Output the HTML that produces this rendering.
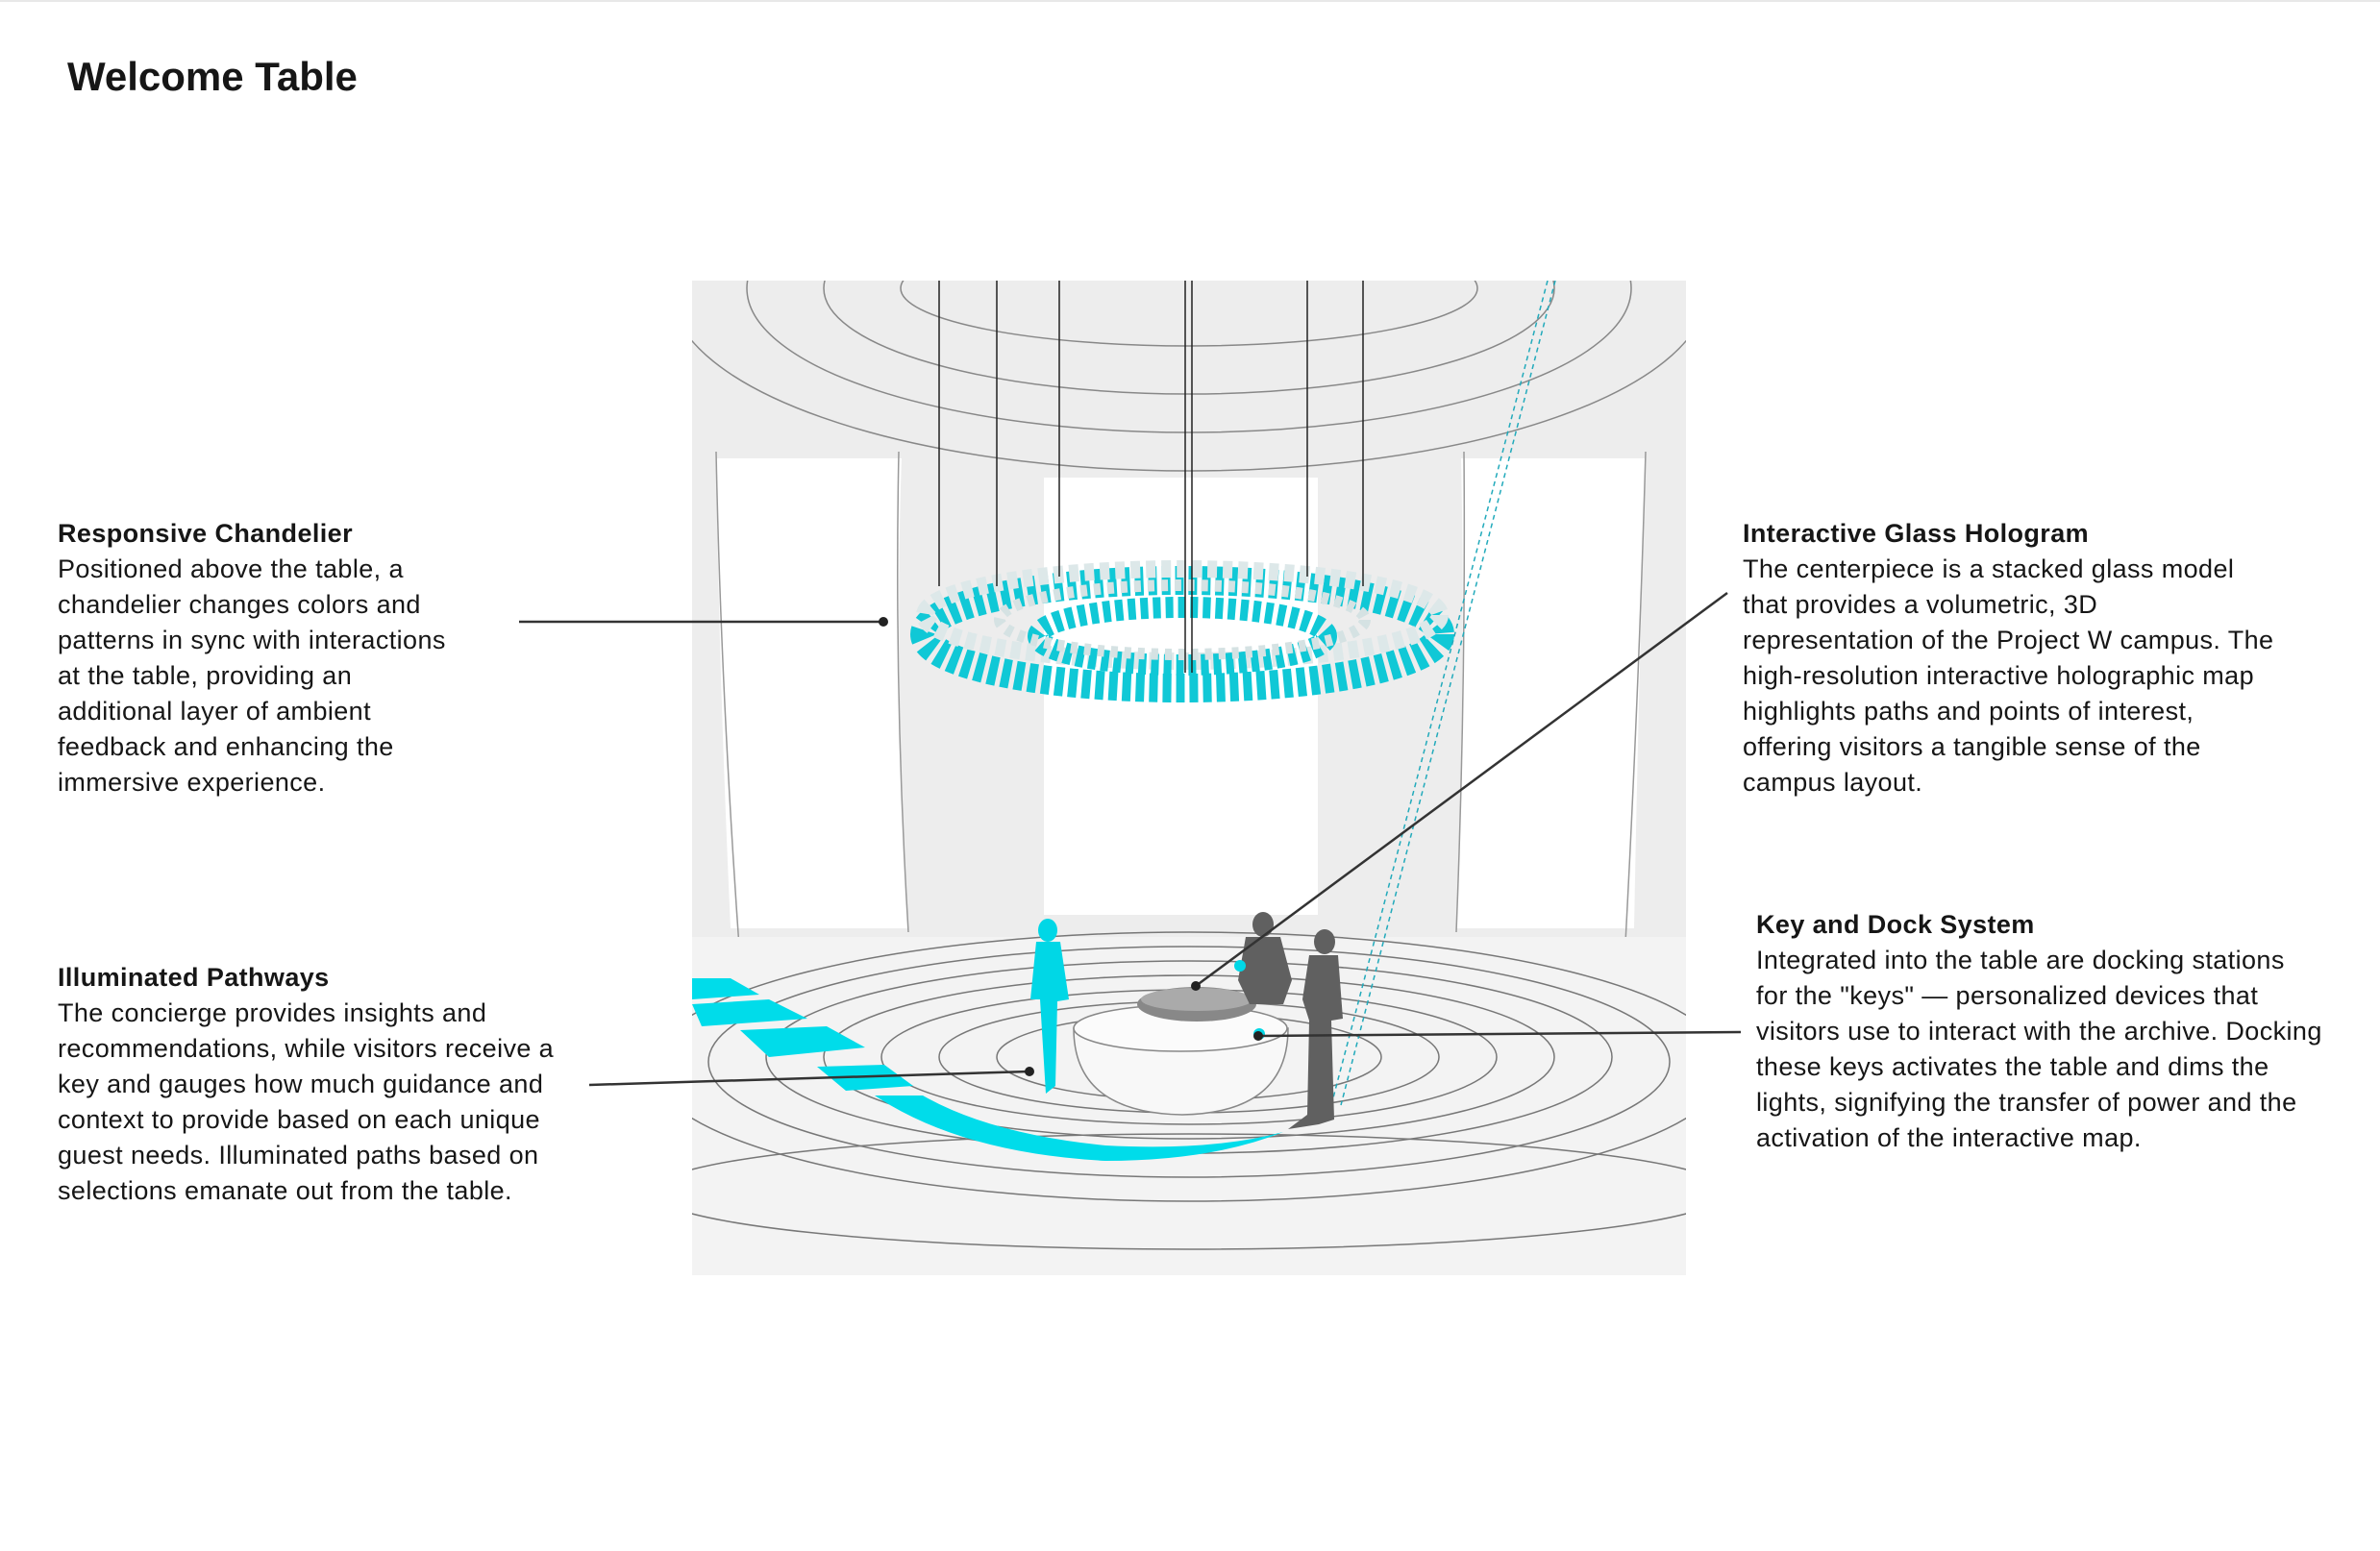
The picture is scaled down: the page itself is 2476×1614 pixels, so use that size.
<!DOCTYPE html>
<html><head><meta charset="utf-8"><style>
html,body{margin:0;padding:0;background:#fff;}
body{width:2476px;height:1614px;position:relative;overflow:hidden;font-family:"Liberation Sans",sans-serif;color:#161616;}
h1{position:absolute;left:70px;top:56px;margin:0;font-size:42px;font-weight:bold;}
.t{position:absolute;font-size:27px;line-height:37px;letter-spacing:0.4px;white-space:nowrap;}
.t b{font-weight:bold;}
svg{position:absolute;left:0;top:0;}
</style></head><body>
<div style="position:absolute;left:0;top:0;width:2476px;height:2px;background:#e8e8e8"></div>
<h1>Welcome Table</h1>
<svg width="2476" height="1614" viewBox="0 0 2476 1614">
<defs><clipPath id="c"><rect x="720" y="292" width="1034" height="1035"/></clipPath></defs>
<g clip-path="url(#c)">
<rect x="720" y="292" width="1034" height="1035" fill="#ededed"/>
<g fill="none" stroke="#888" stroke-width="1.5">
<ellipse cx="1237" cy="300" rx="300" ry="60"/>
<ellipse cx="1237" cy="300" rx="380" ry="110"/>
<ellipse cx="1237" cy="300" rx="460" ry="150"/>
<ellipse cx="1237" cy="300" rx="540" ry="190"/>
</g>
<path d="M745 477 L938 477 Q930 700 945 966 L760 966 Q748 700 745 477Z" fill="#fff"/>
<path d="M1086 497 L1371 497 L1371 952 L1086 952Z" fill="#fff"/>
<path d="M1520 477 L1712 477 Q1705 700 1700 966 L1515 966 Q1525 700 1520 477Z" fill="#fff"/>
<g stroke="#999" stroke-width="1.5" fill="none">
<path d="M935 470 Q930 720 945 970"/><path d="M1523 470 Q1525 720 1515 970"/>
<path d="M745 470 Q750 720 770 1000"/><path d="M1712 470 Q1705 720 1690 1000"/>
</g>
<path d="M720 975 L1754 975 L1754 1327 L720 1327Z" fill="#f3f3f3"/>
<g fill="none" stroke="#777" stroke-width="1.5">
<ellipse cx="1237" cy="1110" rx="560" ry="140"/>
<ellipse cx="1237" cy="1105" rx="500" ry="120"/>
<ellipse cx="1237" cy="1100" rx="440" ry="100"/>
<ellipse cx="1237" cy="1100" rx="380" ry="85"/>
<ellipse cx="1237" cy="1100" rx="320" ry="70"/>
<ellipse cx="1237" cy="1100" rx="260" ry="58"/>
<ellipse cx="1237" cy="1100" rx="200" ry="45"/>
<ellipse cx="1237" cy="1240" rx="560" ry="60"/>
</g>
<path d="M720 1018 L760 1018 L790 1035 L720 1040Z M720 1045 L800 1040 L840 1060 L730 1068Z M770 1072 L860 1068 L900 1090 L800 1100Z M850 1110 L920 1108 L950 1130 L880 1135Z M910 1140 Q1000 1200 1150 1208 Q1260 1208 1335 1178 Q1260 1198 1150 1192 Q1030 1180 960 1140Z" fill="#00dcea"/>
<g fill="none">
<ellipse cx="1230" cy="660" rx="268" ry="56" stroke="#10c8d6" stroke-width="30" stroke-dasharray="9 5"/>
<ellipse cx="1230" cy="640" rx="268" ry="48" stroke="#dde8e9" stroke-width="18" stroke-dasharray="10 6"/>
<ellipse cx="1230" cy="662" rx="150" ry="30" stroke="#10c8d6" stroke-width="22" stroke-dasharray="8 5"/>
<ellipse cx="1230" cy="645" rx="190" ry="36" stroke="#d5e2e3" stroke-width="12" stroke-dasharray="7 7"/>
</g>
<g stroke="#222" stroke-width="1.5">
<line x1="977" y1="292" x2="977" y2="610"/><line x1="1037" y1="292" x2="1037" y2="610"/>
<line x1="1102" y1="292" x2="1102" y2="600"/><line x1="1233" y1="292" x2="1233" y2="700"/>
<line x1="1240" y1="292" x2="1240" y2="700"/><line x1="1418" y1="292" x2="1418" y2="610"/>
<line x1="1360" y1="292" x2="1360" y2="600"/>
</g>
<g stroke="#2ab" stroke-width="1.5" stroke-dasharray="5 4" fill="none">
<line x1="1610" y1="292" x2="1385" y2="1150"/><line x1="1618" y1="292" x2="1395" y2="1150"/>
</g>
<path d="M1117 1070 Q1117 1158 1230 1160 Q1340 1158 1340 1070Z" fill="#f8f8f8" stroke="#888" stroke-width="1.5"/>
<ellipse cx="1228" cy="1070" rx="111" ry="24" fill="#fbfbfb" stroke="#888" stroke-width="1.5"/>
<ellipse cx="1245" cy="1045" rx="62" ry="18" fill="#888"/>
<ellipse cx="1245" cy="1040" rx="58" ry="12" fill="#aaa"/>
<g fill="#00d7e6">
<ellipse cx="1090" cy="968" rx="10" ry="12"/>
<path d="M1078 980 L1103 980 L1112 1040 L1100 1042 L1098 1130 L1088 1138 L1082 1040 L1072 1040Z"/>
</g>
<g fill="#606060">
<ellipse cx="1314" cy="962" rx="11" ry="13"/>
<path d="M1296 975 L1332 975 L1344 1020 L1335 1045 L1300 1045 L1288 1020Z"/>
<ellipse cx="1378" cy="980" rx="11" ry="13"/>
<path d="M1362 994 L1392 994 L1397 1060 L1385 1062 L1388 1165 L1372 1170 L1340 1175 L1360 1160 L1362 1062 L1355 1040Z"/>
</g>
<circle cx="1290" cy="1005" r="6" fill="#00d7e6"/>
<circle cx="1310" cy="1076" r="6" fill="#00d7e6"/>
</g>
<g stroke="#333" stroke-width="2.5">
<line x1="540" y1="647" x2="919" y2="647"/>
<line x1="613" y1="1129" x2="1071" y2="1115"/>
<line x1="1797" y1="617" x2="1244" y2="1026"/>
<line x1="1811" y1="1074" x2="1309" y2="1078"/>
</g>
<g fill="#222">
<circle cx="919" cy="647" r="5"/><circle cx="1071" cy="1115" r="5"/>
<circle cx="1244" cy="1026" r="5"/><circle cx="1309" cy="1078" r="5"/>
</g>
</svg>
<div class="t" style="left:60px;top:537px"><b>Responsive Chandelier</b><br>Positioned above the table, a<br>chandelier changes colors and<br>patterns in sync with interactions<br>at the table, providing an<br>additional layer of ambient<br>feedback and enhancing the<br>immersive experience.</div>
<div class="t" style="left:60px;top:999px"><b>Illuminated Pathways</b><br>The concierge provides insights and<br>recommendations, while visitors receive a<br>key and gauges how much guidance and<br>context to provide based on each unique<br>guest needs. Illuminated paths based on<br>selections emanate out from the table.</div>
<div class="t" style="left:1813px;top:537px"><b>Interactive Glass Hologram</b><br>The centerpiece is a stacked glass model<br>that provides a volumetric, 3D<br>representation of the Project W campus. The<br>high-resolution interactive holographic map<br>highlights paths and points of interest,<br>offering visitors a tangible sense of the<br>campus layout.</div>
<div class="t" style="left:1827px;top:944px"><b>Key and Dock System</b><br>Integrated into the table are docking stations<br>for the "keys" — personalized devices that<br>visitors use to interact with the archive. Docking<br>these keys activates the table and dims the<br>lights, signifying the transfer of power and the<br>activation of the interactive map.</div>
</body></html>
